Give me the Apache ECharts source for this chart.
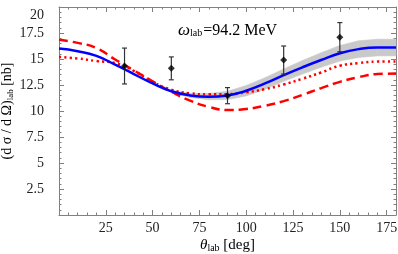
<!DOCTYPE html>
<html><head><meta charset="utf-8">
<script src="https://cdn.jsdelivr.net/npm/echarts@6/dist/echarts.min.js"></script>
<style>html,body{margin:0;padding:0;background:#fff}#c{width:398px;height:254px}</style>
</head><body><div id="c"></div>
<script>
const theta = [0,10,20,30,40,50,60,70,80,90,100,110,120,130,140,150,160,170,180];
const blueFit = [16.0,15.75,15.3,14.45,13.55,12.65,11.9,11.5,11.38,11.5,11.95,12.65,13.45,14.2,14.9,15.55,15.95,16.1,16.1];
const redDashed = [16.85,16.55,16.05,14.95,13.9,12.85,11.85,11.0,10.4,10.1,10.2,10.5,10.95,11.55,12.2,12.8,13.25,13.55,13.6];
const redDotted = [15.2,15.05,14.8,14.6,13.85,12.8,12.05,11.7,11.6,11.62,11.8,12.1,12.55,13.1,13.7,14.35,14.6,14.75,14.75];
const bandTheta = [60,70,80,90,100,110,120,130,140,150,160,170,180];
const bandLow = [11.8,11.3,11.08,11.1,11.45,12.1,12.85,13.55,14.2,14.8,15.15,15.3,15.3];
const bandHigh = [12.0,11.7,11.68,11.9,12.45,13.2,14.05,14.85,15.6,16.3,16.75,16.9,16.9];
const expTheta = [35,60,90,120,150];
const expValue = [14.33,14.1,11.47,14.9,17.09];
const expLow = [12.6,13.0,10.7,13.55,15.7];
const expHigh = [16.05,15.2,12.25,16.25,18.5];
const yTicks = ['2.5','5','7.5','10','12.5','15','17.5','20'];
const xTicks = ['25','50','75','100','125','150','175'];

const pair = (xs, ys) => xs.map((x,i)=>[x,ys[i]]);
const serif = 'Liberation Serif';
const frame = '#808080';

const chart = echarts.init(document.getElementById('c'), null, {renderer:'canvas'});
const mkX = (pos, interval, len, labels, line, extra) => Object.assign({
  type:'value', min:0, max:180, interval:interval, position:pos,
  axisLine:{show:line, onZero:false, lineStyle:{color:frame, width:1}},
  axisTick:{show:true, inside:true, length:len, lineStyle:{color:frame}},
  splitLine:{show:false},
  axisLabel:{show:labels, color:'#222', fontFamily:serif, fontSize:14, margin:6,
    showMinLabel:false, showMaxLabel:false,
    formatter:v => xTicks.indexOf(String(v))>=0 ? String(v) : ''}
}, extra||{});
const mkY = (pos, labels, extra) => Object.assign({
  type:'value', min:0, max:20, interval:2.5, position:pos,
  axisLine:{show:true, onZero:false, lineStyle:{color:frame, width:1}},
  axisTick:{show:true, inside:true, length:5, lineStyle:{color:frame}},
  minorTick:{show:true, splitNumber:5, length:2.5, lineStyle:{color:frame}},
  splitLine:{show:false},
  axisLabel:{show:labels, color:'#222', fontFamily:serif, fontSize:14, margin:15,
    showMinLabel:false,
    formatter:v => { const s=String(v); if(yTicks.indexOf(s)<0) return ''; return s==='20' ? '{t|20}' : s; },
    rich:{t:{fontFamily:serif, fontSize:14, color:'#222', padding:[16,0,0,0]}}}
}, extra||{});

const band = bandTheta.map((x,i)=>[x,bandLow[i],bandHigh[i]]);

chart.setOption({
  animation:false,
  backgroundColor:'#fff',
  grid:{left:59, right:2, top:7, bottom:39, containLabel:false, outerBoundsMode:'none'},
  title:{
    text:'{w|ω}{s|lab}{t|=94.2 MeV}', left:173, top:17,
    textStyle:{fontWeight:'normal', rich:{
      w:{fontFamily:serif, fontStyle:'italic', fontWeight:'normal', fontSize:17, color:'#000'},
      s:{fontFamily:serif, fontWeight:'normal', fontSize:10, color:'#000', padding:[6,1,0,0]},
      t:{fontFamily:serif, fontWeight:'normal', fontSize:16, color:'#000'}
    }}
  },
  xAxis:[
    mkX('bottom', 25, 5, true, true, {
      name:'{a|θ}{s|lab}{b| [deg]}', nameLocation:'middle', nameGap:22, nameMoveOverlap:false,
      nameTextStyle:{rich:{
        a:{fontFamily:serif, fontStyle:'italic', fontSize:15, color:'#000'},
        s:{fontFamily:serif, fontSize:10, color:'#000', padding:[6,0,0,0]},
        b:{fontFamily:serif, fontSize:15, color:'#000'}
      }}}),
    mkX('bottom', 5, 2.5, false, false),
    mkX('top', 25, 5, false, true),
    mkX('top', 5, 2.5, false, false)
  ],
  yAxis:[
    mkY('left', true, {
      name:'{a|(d σ / d Ω)}{s|lab}{b| [nb]}', nameLocation:'middle', nameGap:44, nameRotate:90,
      nameMoveOverlap:false,
      nameTextStyle:{rich:{
        a:{fontFamily:serif, fontSize:14, color:'#000'},
        s:{fontFamily:serif, fontSize:9, color:'#000', padding:[6,0,0,0]},
        b:{fontFamily:serif, fontSize:14, color:'#000'}
      }}}),
    mkY('right', false)
  ],
  series:[
    {
      type:'custom', xAxisIndex:0, yAxisIndex:0, silent:true, z:1,
      data:band,
      renderItem:(params, api) => {
        const i = params.dataIndex;
        if (i >= band.length-1) return null;
        const a = band[i], b = band[i+1];
        const pts = [api.coord([a[0],a[1]]), api.coord([b[0],b[1]]), api.coord([b[0],b[2]]), api.coord([a[0],a[2]])];
        return {type:'polygon', shape:{points:pts}, style:{fill:'#c9c9c9', stroke:'#c9c9c9', lineWidth:0.6}};
      }
    },
    {type:'line', data:pair(theta, redDashed), smooth:0.5, symbol:'none', z:3,
      lineStyle:{color:'#ff0000', width:2.5, type:[9,5]}},
    {type:'line', data:pair(theta, redDotted), smooth:0.5, symbol:'none', z:3,
      lineStyle:{color:'#ff0000', width:2.5, type:[2.2,3.2]}},
    {type:'line', data:pair(theta, blueFit), smooth:0.5, symbol:'none', z:4,
      lineStyle:{color:'#0000ff', width:2.5}},
    {
      type:'custom', z:5, silent:true,
      data:expTheta.map((x,i)=>[x,expLow[i],expHigh[i]]),
      renderItem:(params, api) => {
        const x = api.value(0);
        const lo = api.coord([x, api.value(1)]), hi = api.coord([x, api.value(2)]);
        const st = {stroke:'#333', lineWidth:1.2};
        return {type:'group', children:[
          {type:'line', shape:{x1:lo[0], y1:lo[1], x2:hi[0], y2:hi[1]}, style:st},
          {type:'line', shape:{x1:lo[0]-2.5, y1:lo[1], x2:lo[0]+2.5, y2:lo[1]}, style:st},
          {type:'line', shape:{x1:hi[0]-2.5, y1:hi[1], x2:hi[0]+2.5, y2:hi[1]}, style:st}
        ]};
      }
    },
    {type:'scatter', z:6, data:pair(expTheta, expValue), symbol:'diamond', symbolSize:7,
      itemStyle:{color:'#000'}}
  ]
});
</script></body></html>
